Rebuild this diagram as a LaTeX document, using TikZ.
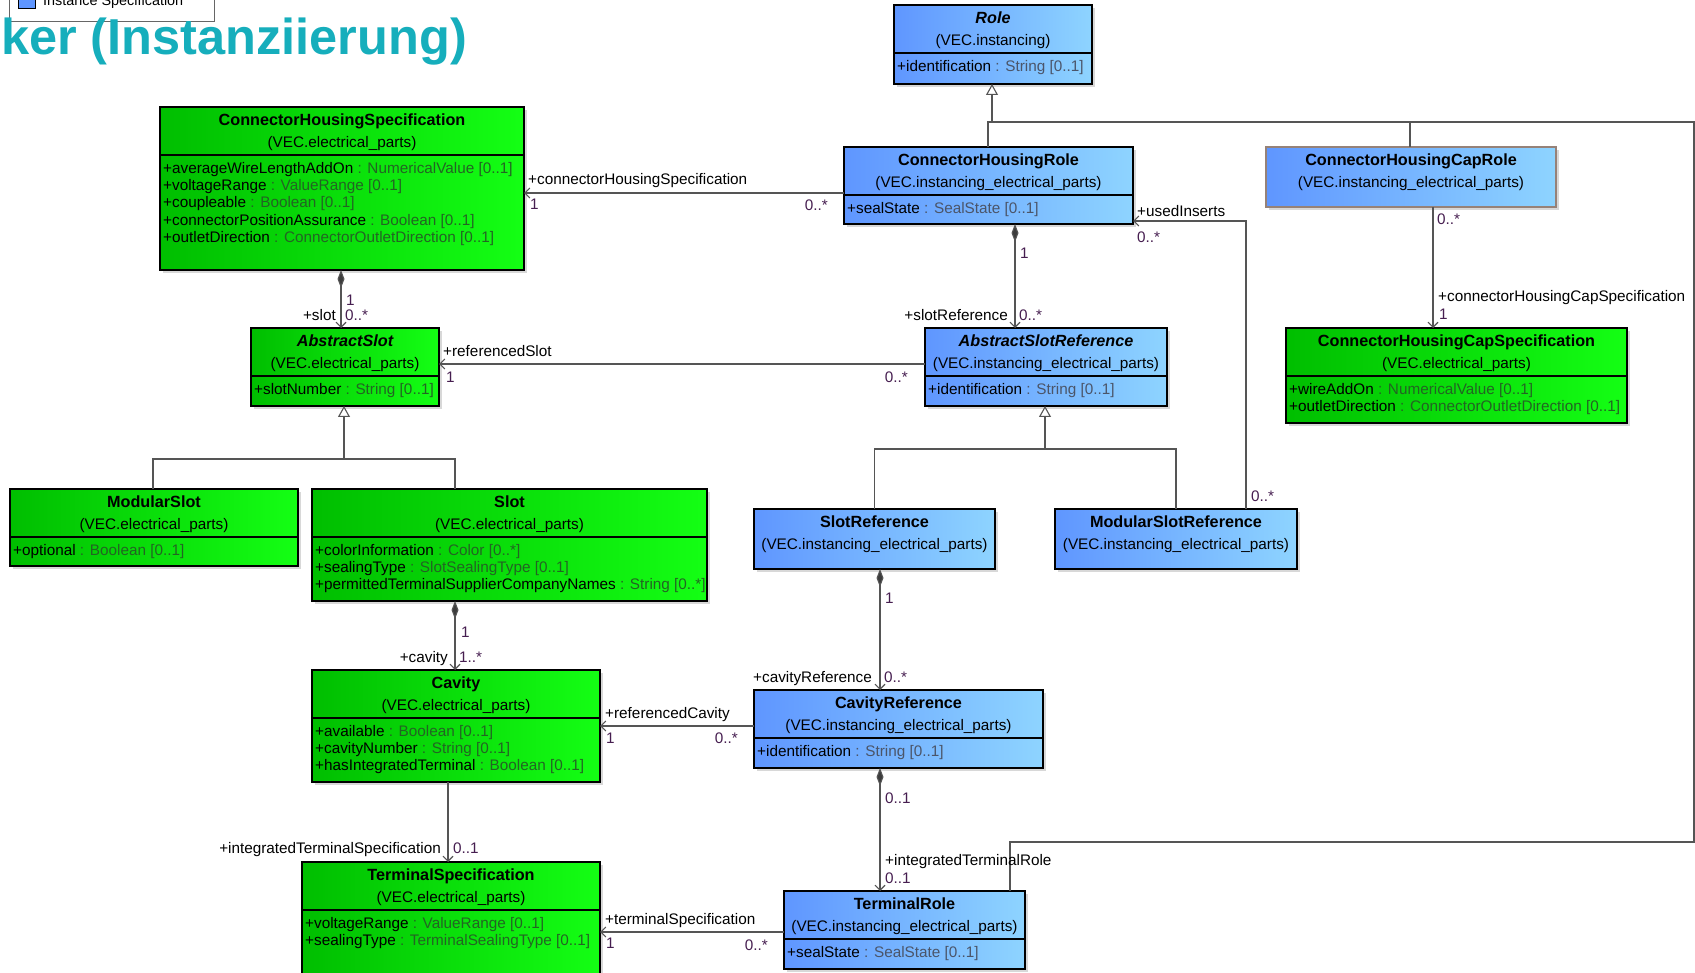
\documentclass[tikz,border=0pt]{standalone}
\usepackage{fontspec}
\setmainfont{Liberation Sans}
\usetikzlibrary{arrows.meta,calc,shadows}
\definecolor{gL}{RGB}{0,190,0}
\definecolor{gR}{RGB}{20,255,20}
\definecolor{bL}{RGB}{95,150,255}
\definecolor{bR}{RGB}{142,212,255}
\definecolor{lnc}{RGB}{85,85,85}
\definecolor{typeg}{RGB}{35,100,35}
\definecolor{typeb}{RGB}{75,85,105}
\definecolor{multc}{RGB}{70,30,80}
\definecolor{titlec}{RGB}{22,174,188}
\definecolor{capborder}{RGB}{150,130,120}
\newcommand\dfs{\fontsize{15.3}{17.3}\selectfont}
\newcommand\bfs{\fontsize{16.2}{18}\selectfont}
\tikzset{
 cls/.style={draw=black, line width=1.3pt, inner sep=0pt, outer sep=0pt, rectangle,
   drop shadow={shadow xshift=3pt, shadow yshift=-3pt, fill=black!30}},
 gcls/.style={cls, left color=gL, right color=gR},
 bcls/.style={cls, left color=bL, right color=bR},
 nm/.style={font=\bfs\bfseries, inner sep=0pt, anchor=mid, yshift=-3.2pt},
 nmi/.style={font=\bfs\bfseries\itshape, inner sep=0pt, anchor=mid, yshift=-3.2pt},
 pk/.style={font=\dfs, inner sep=0pt, anchor=mid, yshift=-3.2pt},
 attrtx/.style={font=\dfs, inner sep=0pt, anchor=mid west, yshift=-3.2pt},
 lbl/.style={font=\dfs, inner sep=0pt, yshift=-3.2pt},
 mul/.style={font=\dfs, inner sep=0pt, text=multc, yshift=-3.2pt},
 sepl/.style={draw=black, line width=1.3pt},
 conn/.style={draw=lnc, line width=1.1pt},
 assoc/.style={conn, -{Straight Barb[length=5pt,width=10pt]}},
 comp/.style={conn, {Diamond[length=18pt,width=7pt,fill=lnc!70!black]}-{Straight Barb[length=5pt,width=10pt]}},
 gen/.style={conn, -{Triangle[length=11pt,width=12pt,fill=white]}},
}
% #1 name, #2 style, #3 x1, #4 y1, #5 x2, #6 y2
\newcommand\cbox[6]{\node[#2, anchor=north west, minimum width=#5-#3, minimum height=#6-#4] (#1) at (#3,#4) {};}
% #1 box, #2 name style, #3 name, #4 package
\newcommand\chead[4]{%
 \node[#2] (#1-n) at ([yshift=-13pt]#1.north) {#3};
 \node[pk] (#1-p) at ([yshift=-35pt]#1.north) {#4};}
\newcommand\csep[1]{\draw[sepl] ([yshift=-48pt]#1.north west) -- ([yshift=-48pt]#1.north east);}
% #1 box, #2 index, #3 attr name, #4 type, #5 type colour
\newcommand\cattr[5]{\node[attrtx] (#1-a#2) at ([xshift=3pt,yshift={-60.5-17.3*#2}]#1.north west) {#3 {\color{#5}: #4}};}
\begin{document}
\begin{tikzpicture}[x=1pt,y=-1pt]
\useasboundingbox (0,0) rectangle (1695,973);
\clip (0,0) rectangle (1695,973);
\fill[white] (0,0) rectangle (1695,973);

% legend and title
\node[draw=black!60, line width=1pt, fill=white, minimum width=205, minimum height=45, anchor=south west, inner sep=0pt] (legend) at (9,22) {};
\node[draw=black, line width=1pt, fill=bL, minimum size=17, anchor=south west, inner sep=0pt] (legsq) at (18,9.5) {};
\node[font=\fontsize{14.4}{16}\selectfont, inner sep=0pt, anchor=base west] (legtx) at (43,6) {Instance Specification};
\node[font=\fontsize{50.5}{56}\selectfont\bfseries, text=titlec, anchor=base west, inner sep=0pt] (title) at (1,55) {ker (Instanziierung)};

\coordinate (groot) at (992,122);
\coordinate (rgt) at (1694,122);
\coordinate (rgb) at (1694,842);
\coordinate (gas) at (344,459);
\coordinate (gasr) at (1045,449);

% ---------- boxes ----------
\cbox{role}{bcls}{894}{5}{1092}{84}
\chead{role}{nmi}{Role}{(VEC.instancing)}
\csep{role}
\cattr{role}{0}{+identification}{String [0..1]}{typeb}

\cbox{chs}{gcls}{160}{107}{524}{270}
\chead{chs}{nm}{ConnectorHousingSpecification}{(VEC.electrical\_parts)}
\csep{chs}
\cattr{chs}{0}{+averageWireLengthAddOn}{NumericalValue [0..1]}{typeg}
\cattr{chs}{1}{+voltageRange}{ValueRange [0..1]}{typeg}
\cattr{chs}{2}{+coupleable}{Boolean [0..1]}{typeg}
\cattr{chs}{3}{+connectorPositionAssurance}{Boolean [0..1]}{typeg}
\cattr{chs}{4}{+outletDirection}{ConnectorOutletDirection [0..1]}{typeg}

\cbox{chr}{bcls}{844}{147}{1133}{224}
\chead{chr}{nm}{ConnectorHousingRole}{(VEC.instancing\_electrical\_parts)}
\csep{chr}
\cattr{chr}{0}{+sealState}{SealState [0..1]}{typeb}

\cbox{chcr}{bcls,draw=capborder}{1266}{147}{1556}{207}
\chead{chcr}{nm}{ConnectorHousingCapRole}{(VEC.instancing\_electrical\_parts)}

\cbox{chcs}{gcls}{1286}{328}{1627}{423}
\chead{chcs}{nm}{ConnectorHousingCapSpecification}{(VEC.electrical\_parts)}
\csep{chcs}
\cattr{chcs}{0}{+wireAddOn}{NumericalValue [0..1]}{typeg}
\cattr{chcs}{1}{+outletDirection}{ConnectorOutletDirection [0..1]}{typeg}

\cbox{aslot}{gcls}{251}{328}{439}{406}
\chead{aslot}{nmi}{AbstractSlot}{(VEC.electrical\_parts)}
\csep{aslot}
\cattr{aslot}{0}{+slotNumber}{String [0..1]}{typeg}

\cbox{asr}{bcls}{925}{328}{1167}{406}
\chead{asr}{nmi}{AbstractSlotReference}{(VEC.instancing\_electrical\_parts)}
\csep{asr}
\cattr{asr}{0}{+identification}{String [0..1]}{typeb}

\cbox{mslot}{gcls}{10}{489}{298}{566}
\chead{mslot}{nm}{ModularSlot}{(VEC.electrical\_parts)}
\csep{mslot}
\cattr{mslot}{0}{+optional}{Boolean [0..1]}{typeg}

\cbox{slot}{gcls}{312}{489}{707}{601}
\chead{slot}{nm}{Slot}{(VEC.electrical\_parts)}
\csep{slot}
\cattr{slot}{0}{+colorInformation}{Color [0..*]}{typeg}
\cattr{slot}{1}{+sealingType}{SlotSealingType [0..1]}{typeg}
\cattr{slot}{2}{+permittedTerminalSupplierCompanyNames}{String [0..*]}{typeg}

\cbox{sref}{bcls}{754}{509}{995}{569}
\chead{sref}{nm}{SlotReference}{(VEC.instancing\_electrical\_parts)}

\cbox{msr}{bcls}{1055}{509}{1297}{569}
\chead{msr}{nm}{ModularSlotReference}{(VEC.instancing\_electrical\_parts)}

\cbox{cav}{gcls}{312}{670}{600}{782}
\chead{cav}{nm}{Cavity}{(VEC.electrical\_parts)}
\csep{cav}
\cattr{cav}{0}{+available}{Boolean [0..1]}{typeg}
\cattr{cav}{1}{+cavityNumber}{String [0..1]}{typeg}
\cattr{cav}{2}{+hasIntegratedTerminal}{Boolean [0..1]}{typeg}

\cbox{cref}{bcls}{754}{690}{1043}{768}
\chead{cref}{nm}{CavityReference}{(VEC.instancing\_electrical\_parts)}
\csep{cref}
\cattr{cref}{0}{+identification}{String [0..1]}{typeb}

\cbox{ts}{gcls}{302}{862}{600}{990}
\chead{ts}{nm}{TerminalSpecification}{(VEC.electrical\_parts)}
\csep{ts}
\cattr{ts}{0}{+voltageRange}{ValueRange [0..1]}{typeg}
\cattr{ts}{1}{+sealingType}{TerminalSealingType [0..1]}{typeg}

\cbox{tr}{bcls}{784}{891}{1025}{969}
\chead{tr}{nm}{TerminalRole}{(VEC.instancing\_electrical\_parts)}
\csep{tr}
\cattr{tr}{0}{+sealState}{SealState [0..1]}{typeb}

% ---------- connectors ----------
\draw[gen] (groot) -- (role.south -| groot);
\draw[conn] (chr.north -| 988,0) |- (rgt) -- (rgb) -| (tr.north -| 1010,0);
\draw[conn] (chcr.north -| 1410,0) -- +(0,-25);
\draw[gen] (gas) -- (aslot.south -| gas);
\draw[conn] (mslot.north -| 153,0) |- (gas) -| (slot.north -| 455,0);
\draw[gen] (gasr) -- (asr.south -| gasr);
\draw[conn] (sref.north) |- (gasr) -| (msr.north);

\draw[assoc] (chr.west |- 0,193) -- (chs.east |- 0,193);
\draw[comp] (chr.south -| 1015,0) -- (asr.north -| 1015,0);
\draw[assoc] (msr.north -| 1246,0) |- (chr.east |- 0,221);
\draw[comp] (chs.south -| 341,0) -- (aslot.north -| 341,0);
\draw[assoc] (asr.west |- 0,364) -- (aslot.east |- 0,364);
\draw[comp] (slot.south -| 455,0) -- (cav.north -| 455,0);
\draw[comp] (sref.south -| 880,0) -- (cref.north -| 880,0);
\draw[assoc] (cref.west |- 0,726) -- (cav.east |- 0,726);
\draw[assoc] (cav.south -| 448,0) -- (ts.north -| 448,0);
\draw[comp] (cref.south -| 880,0) -- (tr.north -| 880,0);
\draw[assoc] (tr.west |- 0,932) -- (ts.east |- 0,932);
\draw[assoc] (chcr.south -| 1433,0) -- (chcs.north -| 1433,0);

% ---------- labels ----------
\node[lbl, anchor=mid west] (l1a) at (528,179) {+connectorHousingSpecification};
\node[mul, anchor=mid west] (l1b) at (530,204) {1};
\node[mul, anchor=mid east] (l1c) at (828,205) {0..*};

\node[mul, anchor=mid west] (l2a) at (1020,253) {1};
\node[lbl, anchor=mid east] (l2b) at (1008,315) {+slotReference};
\node[mul, anchor=mid west] (l2c) at (1019,315) {0..*};

\node[lbl, anchor=mid west] (l3a) at (1137,211) {+usedInserts};
\node[mul, anchor=mid west] (l3b) at (1137,237) {0..*};
\node[mul, anchor=mid west] (l3c) at (1251,496) {0..*};

\node[mul, anchor=mid west] (l4a) at (346,300) {1};
\node[lbl, anchor=mid east] (l4b) at (336,315) {+slot};
\node[mul, anchor=mid west] (l4c) at (345,315) {0..*};

\node[lbl, anchor=mid west] (l5a) at (443,351) {+referencedSlot};
\node[mul, anchor=mid west] (l5b) at (446,377) {1};
\node[mul, anchor=mid east] (l5c) at (908,377) {0..*};

\node[mul, anchor=mid west] (l8a) at (461,632) {1};
\node[lbl, anchor=mid east] (l8b) at (448,657) {+cavity};
\node[mul, anchor=mid west] (l8c) at (459,657) {1..*};

\node[mul, anchor=mid west] (l9a) at (885,598) {1};
\node[lbl, anchor=mid east] (l9b) at (872,677) {+cavityReference};
\node[mul, anchor=mid west] (l9c) at (884,677) {0..*};

\node[lbl, anchor=mid west] (l10a) at (605,713) {+referencedCavity};
\node[mul, anchor=mid west] (l10b) at (606,738) {1};
\node[mul, anchor=mid east] (l10c) at (738,738) {0..*};

\node[lbl, anchor=mid east] (l11a) at (441,848) {+integratedTerminalSpecification};
\node[mul, anchor=mid west] (l11b) at (453,848) {0..1};

\node[mul, anchor=mid west] (l12a) at (885,798) {0..1};
\node[lbl, anchor=mid west] (l12b) at (885,860) {+integratedTerminalRole};
\node[mul, anchor=mid west] (l12c) at (885,878) {0..1};

\node[lbl, anchor=mid west] (l13a) at (605,919) {+terminalSpecification};
\node[mul, anchor=mid west] (l13b) at (606,943) {1};
\node[mul, anchor=mid east] (l13c) at (768,945) {0..*};

\node[mul, anchor=mid west] (l14a) at (1437,219) {0..*};
\node[lbl, anchor=mid west] (l14b) at (1438,296) {+connectorHousingCapSpecification};
\node[mul, anchor=mid west] (l14c) at (1439,314) {1};
\end{tikzpicture}
\end{document}
